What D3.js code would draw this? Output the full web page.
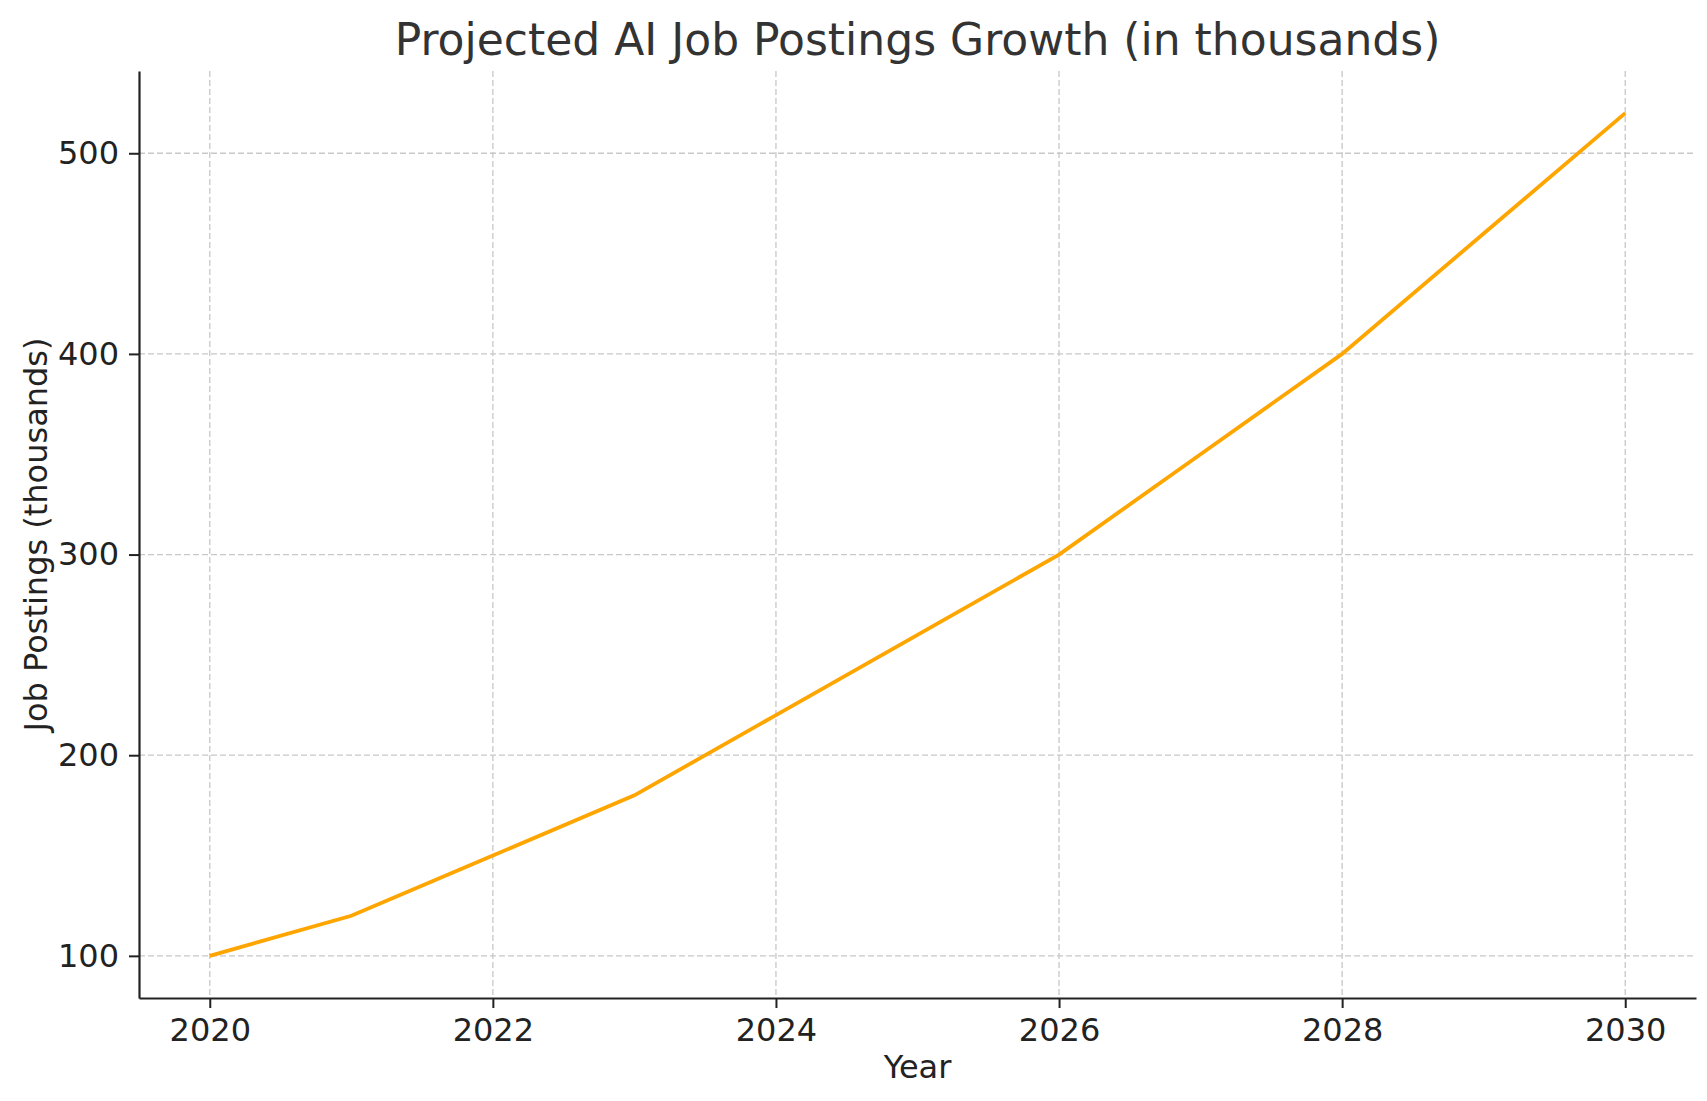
<!DOCTYPE html>
<html><head><meta charset="utf-8">
<script src="https://cdn.jsdelivr.net/npm/d3@7"></script>
<style>body{margin:0;background:#fff}text{font-family:"DejaVu Sans",sans-serif}</style>
</head><body><svg id="c" width="1707" height="1101"></svg>
<script>
const years = [2020,2021,2022,2023,2024,2025,2026,2027,2028,2029,2030];
const postings = [100,120,150,180,220,260,300,350,400,460,520];
const xTicks = [2020,2022,2024,2026,2028,2030];
const yTicks = [100,200,300,400,500];
const svg = d3.select("#c");
const L=139,R=1696,T=71,B=998;
const x = d3.scaleLinear().domain([2019.5,2030.5]).range([L,R]);
const y = d3.scaleLinear().domain([79,541]).range([B,T]);
const g = svg.append("g");
g.selectAll(".gx").data(xTicks).join("line").attr("x1",d=>x(d)).attr("x2",d=>x(d)).attr("y1",T).attr("y2",B)
 .attr("stroke","#c8c8c8").attr("stroke-width",1.3).attr("stroke-dasharray","6,3");
g.selectAll(".gy").data(yTicks).join("line").attr("y1",d=>y(d)).attr("y2",d=>y(d)).attr("x1",L).attr("x2",R)
 .attr("stroke","#c8c8c8").attr("stroke-width",1.3).attr("stroke-dasharray","6,3");
svg.append("path").datum(years.map((yr,i)=>[yr,postings[i]]))
 .attr("d",d3.line().x(d=>x(d[0])).y(d=>y(d[1]))).attr("fill","none").attr("stroke","#FFA500").attr("stroke-width",3.8);
const xa = svg.append("g").attr("transform",`translate(0,${B})`).call(d3.axisBottom(x).tickValues(xTicks).tickFormat(d3.format("d")).tickSize(10).tickPadding(10).tickSizeOuter(0));
const ya = svg.append("g").attr("transform",`translate(${L},0)`).call(d3.axisLeft(y).tickValues(yTicks).tickSize(10).tickPadding(10).tickSizeOuter(0));
[xa,ya].forEach(a=>{a.attr("font-size",null);a.selectAll("text").style("font-size","32px").attr("fill","#222").style("font-family","DejaVu Sans");
 a.selectAll("line").attr("stroke","#222").attr("stroke-width",2);a.select(".domain").attr("stroke","#222").attr("stroke-width",2.2);});
svg.append("text").attr("x",(L+R)/2).attr("y",55).attr("text-anchor","middle").style("font-size","44px").attr("fill","#333").text("Projected AI Job Postings Growth (in thousands)");
svg.append("text").attr("x",(L+R)/2).attr("y",1078).attr("text-anchor","middle").style("font-size","32px").attr("fill","#222").text("Year");
svg.append("text").attr("transform",`translate(47,${(T+B)/2}) rotate(-90)`).attr("text-anchor","middle").style("font-size","32px").attr("fill","#222").text("Job Postings (thousands)");
</script></body></html>
